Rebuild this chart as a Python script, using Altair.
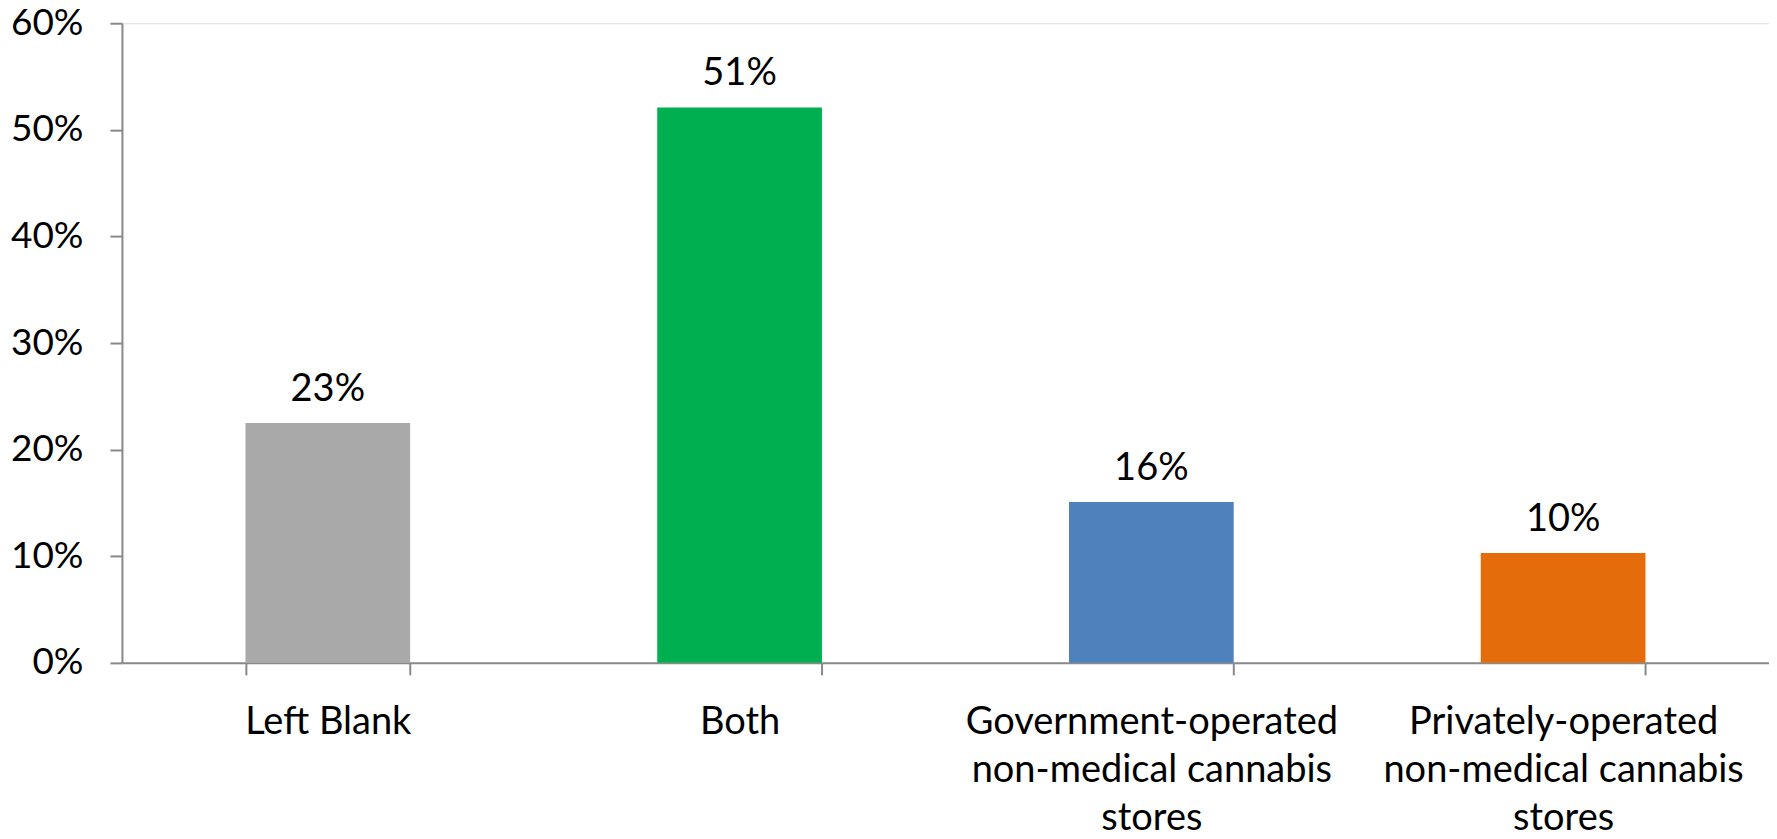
import altair as alt
import pandas as pd

categories = [
    "Left Blank",
    "Both",
    "Government-operated\nnon-medical cannabis\nstores",
    "Privately-operated\nnon-medical cannabis\nstores",
]
values = [0.225, 0.521, 0.151, 0.103]
value_labels = ["23%", "51%", "16%", "10%"]
colors = ["#A9A9A9", "#00B050", "#4F81BD", "#E46C0A"]

df = pd.DataFrame({
    "category": categories,
    "value": values,
    "label": value_labels,
    "color": colors,
})

x = alt.X(
    "category:N",
    sort=categories,
    scale=alt.Scale(paddingInner=0.6, paddingOuter=0.3),
    axis=alt.Axis(
        title=None,
        labelAngle=0,
        labelExpr="split(datum.label, '\\n')",
        labelFont="Lato",
        labelFontSize=38,
        labelColor="#000000",
        labelLineHeight=48,
        labelPadding=29,
        labelBaseline="top",
        labelLimit=0,
        tickBand="extent",
        tickSize=12,
        tickColor="#898989",
        tickWidth=2,
        domainColor="#898989",
        domainWidth=2,
        grid=False,
    ),
)

y = alt.Y(
    "value:Q",
    scale=alt.Scale(domain=[0, 0.6], nice=False),
    axis=alt.Axis(
        title=None,
        values=[0, 0.1, 0.2, 0.3, 0.4, 0.5, 0.6],
        format=".0%",
        labelFont="Lato",
        labelFontSize=37,
        labelColor="#000000",
        labelPadding=27,
        labelLimit=0,
        tickSize=12,
        tickColor="#898989",
        tickWidth=2,
        domainColor="#898989",
        domainWidth=2,
        grid=False,
    ),
)

bars = alt.Chart(df).mark_bar().encode(
    x=x,
    y=y,
    color=alt.Color("color:N", scale=None, legend=None),
)

texts = alt.Chart(df).mark_text(
    font="Lato", fontSize=38, color="#000000", baseline="alphabetic", dy=-22
).encode(
    x=alt.X("category:N", sort=categories),
    y=alt.Y("value:Q"),
    text="label:N",
)

chart = (
    alt.layer(bars, texts)
    .properties(
        width=1648,
        height=640,
        autosize=alt.AutoSizeParams(type="none"),
        padding={"left": 114, "top": 15, "right": 0, "bottom": 168},
    )
    .configure_view(stroke=None)
    .configure(background="#ffffff")
)

chart.save("out.html", embed_options={"renderer": "svg", "actions": False})
